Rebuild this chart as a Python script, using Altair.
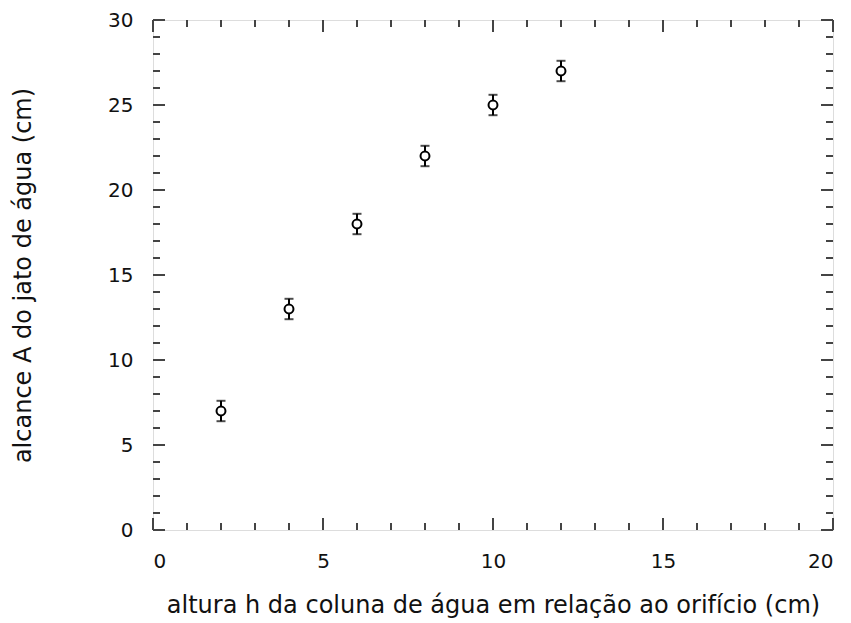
import altair as alt
import pandas as pd

h = [2, 4, 6, 8, 10, 12]
A = [7, 13, 18, 22, 25, 27]
err = [0.6, 0.6, 0.6, 0.6, 0.6, 0.6]

x_major = [0, 5, 10, 15, 20]
x_minor = [v for v in range(0, 21) if v % 5 != 0]
y_major = [0, 5, 10, 15, 20, 25, 30]
y_minor = [v for v in range(0, 31) if v % 5 != 0]

W, H = 680, 510
MAJ, MIN = 12, 7

df = pd.DataFrame({"h": h, "A": A, "lo": [a - e for a, e in zip(A, err)], "hi": [a + e for a, e in zip(A, err)]})

xs = alt.Scale(domain=[0, 20], nice=False)
ys = alt.Scale(domain=[0, 30], nice=False)

font = "DejaVu Sans"
xaxis = alt.Axis(values=x_major, ticks=False, domain=False, grid=False, labelFontSize=20, labelFont=font,
                 labelColor="#111", labelPadding=21, titleFontSize=24, titleFont=font, titleFontWeight="normal",
                 titleColor="#111", titlePadding=22)
yaxis = alt.Axis(values=y_major, ticks=False, domain=False, grid=False, labelFontSize=20, labelFont=font,
                 labelColor="#111", labelPadding=20, titleFontSize=24, titleFont=font, titleFontWeight="normal",
                 titleColor="#111", titlePadding=72)

base = alt.Chart(df)

rules = base.mark_rule(color="black", strokeWidth=2).encode(
    x=alt.X("h:Q", scale=xs, axis=xaxis, title="altura h da coluna de água em relação ao orifício (cm)"),
    y=alt.Y("lo:Q", scale=ys, axis=yaxis, title="alcance A do jato de água (cm)"),
    y2="hi:Q",
)
cap_lo = base.mark_tick(color="black", orient="horizontal", size=9, thickness=2).encode(
    x=alt.X("h:Q", scale=xs), y=alt.Y("lo:Q", scale=ys))
cap_hi = base.mark_tick(color="black", orient="horizontal", size=9, thickness=2).encode(
    x=alt.X("h:Q", scale=xs), y=alt.Y("hi:Q", scale=ys))
pts = base.mark_point(shape="circle", filled=False, fill="white", fillOpacity=1, stroke="black",
                      strokeWidth=2, size=80, opacity=1).encode(
    x=alt.X("h:Q", scale=xs), y=alt.Y("A:Q", scale=ys))

TC = "#444"

def xticks(vals, length):
    d = pd.DataFrame({"v": vals})
    c = alt.Chart(d)
    bot = c.mark_rule(color=TC, strokeWidth=2).encode(
        x=alt.X("v:Q", scale=xs), y=alt.value(H), y2=alt.value(H - length))
    top = c.mark_rule(color=TC, strokeWidth=2).encode(
        x=alt.X("v:Q", scale=xs), y=alt.value(0), y2=alt.value(length))
    return [bot, top]

def yticks(vals, length):
    d = pd.DataFrame({"v": vals})
    c = alt.Chart(d)
    left = c.mark_rule(color=TC, strokeWidth=2).encode(
        y=alt.Y("v:Q", scale=ys), x=alt.value(0), x2=alt.value(length))
    right = c.mark_rule(color=TC, strokeWidth=2).encode(
        y=alt.Y("v:Q", scale=ys), x=alt.value(W), x2=alt.value(W - length))
    return [left, right]

layers = [rules, cap_lo, cap_hi, pts] + xticks(x_major, MAJ) + xticks(x_minor, MIN) + yticks(y_major, MAJ) + yticks(y_minor, MIN)

chart = alt.layer(*layers).properties(
    width=W, height=H,
    autosize=alt.AutoSizeParams(type="none"),
    padding={"left": 145, "top": 12, "right": 10, "bottom": 90},
).configure_view(stroke=TC, strokeWidth=2).configure(background="white")

chart.save("out.html", embed_options={"renderer": "svg", "actions": False})
